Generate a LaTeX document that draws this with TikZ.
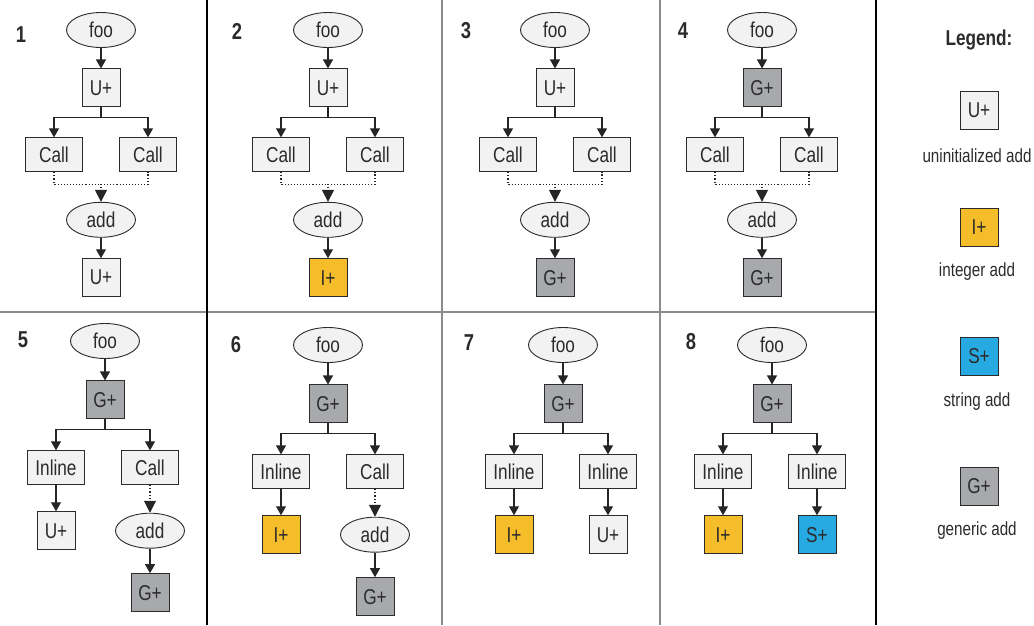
\documentclass[tikz,border=0pt]{standalone}
\usepackage{fontspec}
\setmainfont{Liberation Sans}[FakeStretch=0.8]
\usetikzlibrary{shapes,arrows.meta,positioning}
\definecolor{nodefill}{HTML}{F1F2F1}
\definecolor{genfill}{HTML}{A7A9AC}
\definecolor{intfill}{HTML}{F6BD2A}
\definecolor{strfill}{HTML}{27A9E1}
\definecolor{inkgray}{HTML}{2B2B2B}
\definecolor{rulegray}{HTML}{8A8A8A}

\begin{document}
\begin{tikzpicture}[x=1pt, y=-1pt, node distance=20.5pt,
    every node/.style={text=inkgray, font=\fontsize{21.5}{21.5}\selectfont},
    fn/.style={ellipse, draw=inkgray, fill=nodefill, line width=0.9pt, minimum width=69pt, minimum height=35pt, inner sep=0pt},
    plus/.style={rectangle, draw=inkgray, fill=#1, line width=0.9pt, minimum size=38pt, inner sep=0pt},
    plus/.default=nodefill,
    site/.style={rectangle, draw=inkgray, fill=nodefill, line width=0.9pt, minimum width=57pt, minimum height=34pt, inner sep=0pt},
    link/.style={-{Triangle[length=9pt,width=10pt]}, line width=1.1pt, black!85},
    maybe/.style={dotted, line width=1.1pt, black!85},
    dlink/.style={maybe, -{Triangle[length=12pt,width=12pt]}},
    num/.style={font=\bfseries\fontsize{23}{23}\selectfont},
    caption/.style={font=\fontsize{19}{19}\selectfont}]
    \useasboundingbox (0,0) rectangle (1034,625);

    % panel frames
    \draw[line width=1.3pt, rulegray] (0,312) -- (876,312);
    \draw[line width=1.3pt] (207,0) -- (207,625);
    \draw[line width=1.3pt, rulegray] (442,0) -- (442,625);
    \draw[line width=1.3pt, rulegray] (660,0) -- (660,625);
    \draw[line width=1.3pt] (876,0) -- (876,625);

    % 1
    \node[num] (n1) at (21,35) {1};
    \node[fn] (foo1) at (101,30) {foo};
    \node[plus, below=of foo1] (top1) {U+};
    \node[site, below=30pt of top1, xshift=-47pt] (left1) {Call};
    \node[site, below=30pt of top1, xshift=47pt] (right1) {Call};
    \node[fn, below=94.5pt of top1] (add1) {add};
    \node[plus, below=of add1] (bot1) {U+};
    \draw[link] (foo1) -- (top1);
    \draw[link] (top1.south) -- ++(0,10) -| (left1);
    \draw[link] (top1.south) -- ++(0,10) -| (right1);
    \draw[maybe] (left1.south) -- ++(0,12) coordinate (j1) -| (right1.south);
    \draw[dlink] (j1 -| add1) -- (add1);
    \draw[link] (add1) -- (bot1);

    % 2
    \node[num] (n2) at (237,31) {2};
    \node[fn] (foo2) at (328,30) {foo};
    \node[plus, below=of foo2] (top2) {U+};
    \node[site, below=30pt of top2, xshift=-47pt] (left2) {Call};
    \node[site, below=30pt of top2, xshift=47pt] (right2) {Call};
    \node[fn, below=94.5pt of top2] (add2) {add};
    \node[plus=intfill, below=of add2] (bot2) {I+};
    \draw[link] (foo2) -- (top2);
    \draw[link] (top2.south) -- ++(0,10) -| (left2);
    \draw[link] (top2.south) -- ++(0,10) -| (right2);
    \draw[maybe] (left2.south) -- ++(0,12) coordinate (j2) -| (right2.south);
    \draw[dlink] (j2 -| add2) -- (add2);
    \draw[link] (add2) -- (bot2);

    % 3
    \node[num] (n3) at (466,31) {3};
    \node[fn] (foo3) at (555,30) {foo};
    \node[plus, below=of foo3] (top3) {U+};
    \node[site, below=30pt of top3, xshift=-47pt] (left3) {Call};
    \node[site, below=30pt of top3, xshift=47pt] (right3) {Call};
    \node[fn, below=94.5pt of top3] (add3) {add};
    \node[plus=genfill, below=of add3] (bot3) {G+};
    \draw[link] (foo3) -- (top3);
    \draw[link] (top3.south) -- ++(0,10) -| (left3);
    \draw[link] (top3.south) -- ++(0,10) -| (right3);
    \draw[maybe] (left3.south) -- ++(0,12) coordinate (j3) -| (right3.south);
    \draw[dlink] (j3 -| add3) -- (add3);
    \draw[link] (add3) -- (bot3);

    % 4
    \node[num] (n4) at (683,31) {4};
    \node[fn] (foo4) at (762,30) {foo};
    \node[plus=genfill, below=of foo4] (top4) {G+};
    \node[site, below=30pt of top4, xshift=-47pt] (left4) {Call};
    \node[site, below=30pt of top4, xshift=47pt] (right4) {Call};
    \node[fn, below=94.5pt of top4] (add4) {add};
    \node[plus=genfill, below=of add4] (bot4) {G+};
    \draw[link] (foo4) -- (top4);
    \draw[link] (top4.south) -- ++(0,10) -| (left4);
    \draw[link] (top4.south) -- ++(0,10) -| (right4);
    \draw[maybe] (left4.south) -- ++(0,12) coordinate (j4) -| (right4.south);
    \draw[dlink] (j4 -| add4) -- (add4);
    \draw[link] (add4) -- (bot4);

    % 5
    \node[num] (n5) at (23,340) {5};
    \node[fn] (foo5) at (105,341) {foo};
    \node[plus=genfill, below=21.5pt of foo5] (top5) {G+};
    \node[site, below=31pt of top5, xshift=-49pt] (left5) {Inline};
    \node[site, below=31pt of top5, xshift=45pt] (right5) {Call};
    \node[plus, below=26pt of left5] (bot5) {U+};
    \node[fn, below=27.5pt of right5] (add5) {add};
    \node[plus=genfill, below=24.5pt of add5] (last5) {G+};
    \draw[link] (foo5) -- (top5);
    \draw[link] (top5.south) -- ++(0,10) -| (left5);
    \draw[link] (top5.south) -- ++(0,10) -| (right5);
    \draw[link] (left5) -- (bot5);
    \draw[dlink] (right5) -- (add5);
    \draw[link] (add5) -- (last5);

    % 6
    \node[num] (n6) at (236,345) {6};
    \node[fn] (foo6) at (328,345) {foo};
    \node[plus=genfill, below=21.5pt of foo6] (top6) {G+};
    \node[site, below=31pt of top6, xshift=-47pt] (left6) {Inline};
    \node[site, below=31pt of top6, xshift=47pt] (right6) {Call};
    \node[plus=intfill, below=26pt of left6] (bot6) {I+};
    \node[fn, below=27.5pt of right6] (add6) {add};
    \node[plus=genfill, below=24.5pt of add6] (last6) {G+};
    \draw[link] (foo6) -- (top6);
    \draw[link] (top6.south) -- ++(0,10) -| (left6);
    \draw[link] (top6.south) -- ++(0,10) -| (right6);
    \draw[link] (left6) -- (bot6);
    \draw[dlink] (right6) -- (add6);
    \draw[link] (add6) -- (last6);

    % 7
    \node[num] (n7) at (469,343) {7};
    \node[fn] (foo7) at (563,345) {foo};
    \node[plus=genfill, below=21.5pt of foo7] (top7) {G+};
    \node[site, below=31pt of top7, xshift=-49pt] (left7) {Inline};
    \node[site, below=31pt of top7, xshift=45pt] (right7) {Inline};
    \node[plus=intfill, below=26pt of left7] (bot7) {I+};
    \node[plus, below=26pt of right7] (last7) {U+};
    \draw[link] (foo7) -- (top7);
    \draw[link] (top7.south) -- ++(0,10) -| (left7);
    \draw[link] (top7.south) -- ++(0,10) -| (right7);
    \draw[link] (left7) -- (bot7);
    \draw[link] (right7) -- (last7);

    % 8
    \node[num] (n8) at (691,342) {8};
    \node[fn] (foo8) at (772,345) {foo};
    \node[plus=genfill, below=21.5pt of foo8] (top8) {G+};
    \node[site, below=31pt of top8, xshift=-49pt] (left8) {Inline};
    \node[site, below=31pt of top8, xshift=45pt] (right8) {Inline};
    \node[plus=intfill, below=26pt of left8] (bot8) {I+};
    \node[plus=strfill, below=26pt of right8] (last8) {S+};
    \draw[link] (foo8) -- (top8);
    \draw[link] (top8.south) -- ++(0,10) -| (left8);
    \draw[link] (top8.south) -- ++(0,10) -| (right8);
    \draw[link] (left8) -- (bot8);
    \draw[link] (right8) -- (last8);

    % legend
    \node[font=\bfseries\fontsize{21.5}{21.5}\selectfont] (legend) at (979,40) {Legend:};
    \node[plus] (keyU) at (979,110) {U+};
    \node[caption] (txtU) at (977,156) {uninitialized add};
    \node[plus=intfill] (keyI) at (979,227) {I+};
    \node[caption] (txtI) at (977,272) {integer add};
    \node[plus=strfill] (keyS) at (979,356) {S+};
    \node[caption] (txtS) at (977,402) {string add};
    \node[plus=genfill] (keyG) at (979,486) {G+};
    \node[caption] (txtG) at (977,531) {generic add};
\end{tikzpicture}
\end{document}
